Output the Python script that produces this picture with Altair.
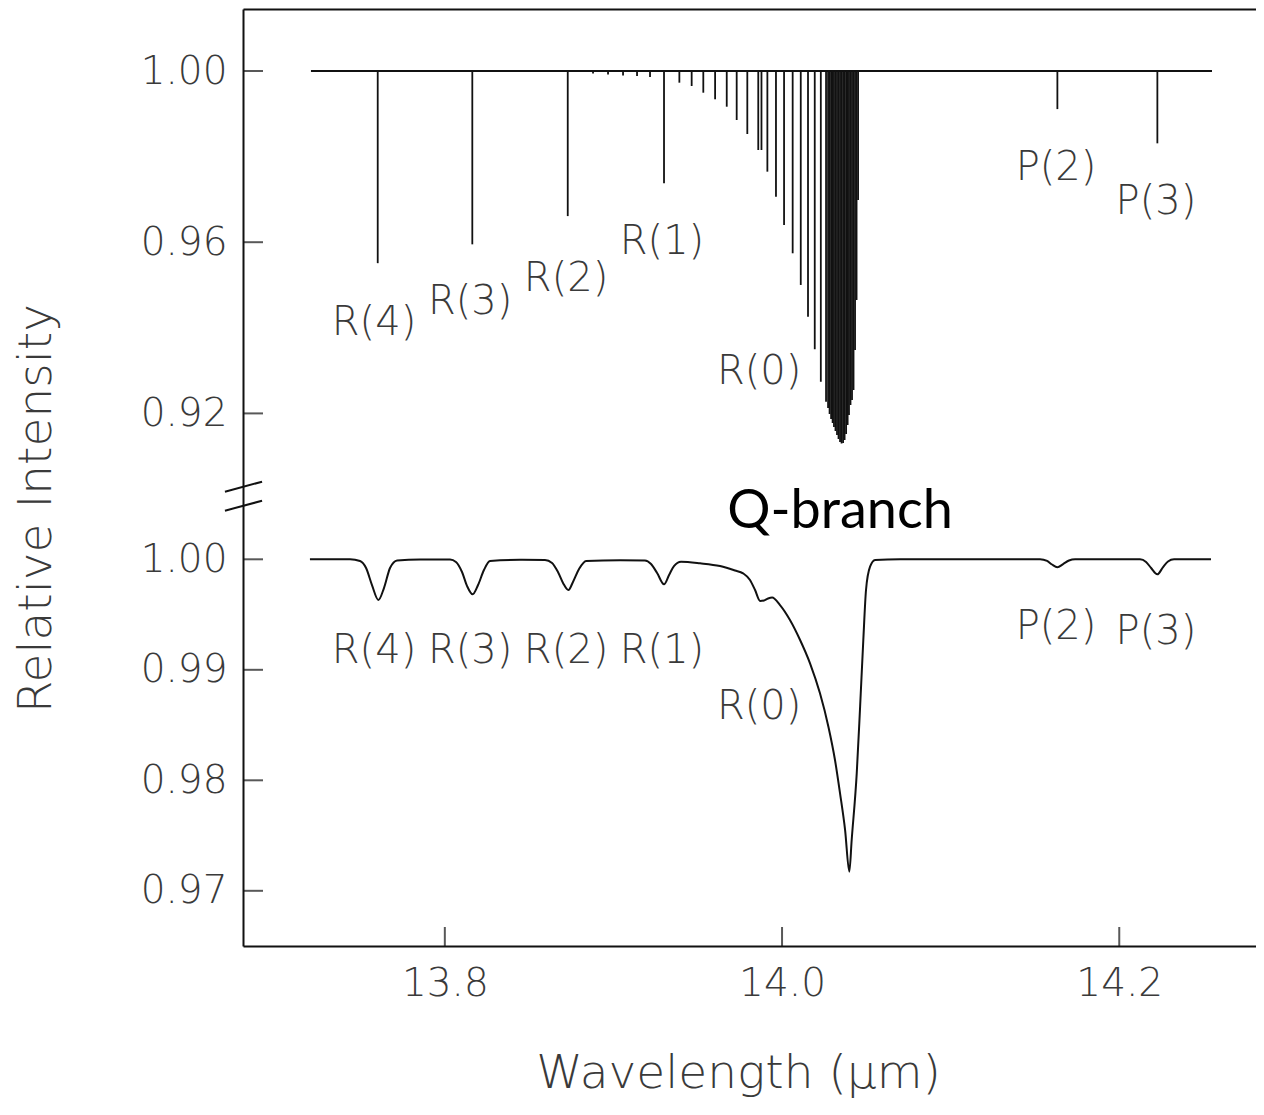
import altair as alt
import pandas as pd

# ---------------- data ----------------
# Top panel: high-resolution spectrum, absorption line centres and depths
line_wavelength = [13.7602, 13.8163, 13.8729, 13.8879, 13.8968, 13.9057, 13.9140, 13.9217,
                   13.9300, 13.9391, 13.9464, 13.9533, 13.9603, 13.9672, 13.9731, 13.9794,
                   13.9859, 13.9878, 13.9913, 13.9964, 14.0012, 14.0063, 14.0111, 14.0154,
                   14.0194, 14.0230, 14.0261, 14.0273, 14.0282, 14.0291, 14.0300, 14.0308,
                   14.0317, 14.0326, 14.0335, 14.0344, 14.0353, 14.0362, 14.0371, 14.0380,
                   14.0389, 14.0397, 14.0406, 14.0415, 14.0424, 14.0433, 14.0442, 14.0451,
                   14.1633, 14.2226]
line_intensity = [0.9551, 0.9595, 0.9661, 0.99942, 0.99918, 0.99895, 0.99883, 0.99860,
                  0.97377, 0.99727, 0.99650, 0.99493, 0.99339, 0.99166, 0.98855, 0.98528,
                  0.98154, 0.98154, 0.97648, 0.97064, 0.96403, 0.95741, 0.95001, 0.94260,
                  0.93499, 0.92742, 0.92275, 0.92128, 0.91988, 0.91871, 0.91778, 0.91684,
                  0.91590, 0.91497, 0.91404, 0.91333, 0.91298, 0.91310, 0.91380, 0.91520,
                  0.91730, 0.91964, 0.92198, 0.92315, 0.92548, 0.93483, 0.94650, 0.96987,
                  0.9911, 0.9831]
continuum_start = [13.7206]
continuum_end = [14.2550]
continuum_level = [1.00]

# Bottom panel: smoothed (convolved) spectrum
smooth_wavelength = [13.7200, 13.7438, 13.7497, 13.7533, 13.7568, 13.7606, 13.7639, 13.7675,
                     13.7717, 13.7853, 13.8031, 13.8066, 13.8102, 13.8132, 13.8165, 13.8197,
                     13.8232, 13.8268, 13.8446, 13.8594, 13.8636, 13.8671, 13.8701, 13.8733,
                     13.8760, 13.8796, 13.8838, 13.9039, 13.9187, 13.9223, 13.9259, 13.9300,
                     13.9330, 13.9359, 13.9401, 13.9514, 13.9632, 13.9721, 13.9769, 13.9810,
                     13.9840, 13.9870, 13.9893, 13.9917, 13.9941, 13.9988, 14.0047, 14.0107,
                     14.0166, 14.0225, 14.0275, 14.0314, 14.0344, 14.0374, 14.0399, 14.0413,
                     14.0443, 14.0463, 14.0482, 14.0498, 14.0522, 14.0552, 14.0700, 14.1530,
                     14.1572, 14.1601, 14.1633, 14.1667, 14.1702, 14.1738, 14.2123, 14.2159,
                     14.2189, 14.2226, 14.2260, 14.2289, 14.2325, 14.2544]
smooth_intensity = [1.00000, 1.00000, 0.99985, 0.99921, 0.99767, 0.99632, 0.99740, 0.99921,
                    0.99990, 0.99998, 0.99998, 0.99976, 0.99885, 0.99758, 0.99683, 0.99767,
                    0.99903, 0.99985, 0.99995, 0.99994, 0.99967, 0.99885, 0.99786, 0.99722,
                    0.99795, 0.99912, 0.99985, 0.99991, 0.99989, 0.99957, 0.99876, 0.99774,
                    0.99858, 0.99939, 0.99978, 0.99964, 0.99939, 0.99899, 0.99873, 0.99813,
                    0.99722, 0.99623, 0.99627, 0.99645, 0.99654, 0.99586, 0.99451, 0.99270,
                    0.99059, 0.98787, 0.98485, 0.98184, 0.97882, 0.97550, 0.97173, 0.97460,
                    0.98063, 0.98666, 0.99270, 0.99722, 0.99933, 0.99994, 1.00000, 1.00000,
                    0.99985, 0.99953, 0.99928, 0.99957, 0.99989, 1.00000, 1.00000, 0.99976,
                    0.99921, 0.99864, 0.99930, 0.99980, 1.00000, 1.00000]

# Annotations
top_label_text = ["R(4)", "R(3)", "R(2)", "R(1)", "R(0)", "P(2)", "P(3)"]
top_label_wavelength = [13.7580, 13.8150, 13.8719, 13.9288, 13.9864, 14.1625, 14.2218]
top_label_intensity = [0.94112, 0.94603, 0.95140, 0.96005, 0.92967, 0.97734, 0.96939]

bottom_label_text = ["R(4)", "R(3)", "R(2)", "R(1)", "R(0)", "P(2)", "P(3)"]
bottom_label_wavelength = [13.7580, 13.8150, 13.8719, 13.9288, 13.9864, 14.1625, 14.2218]
bottom_label_intensity = [0.99170, 0.99170, 0.99170, 0.99170, 0.98666, 0.99387, 0.99342]

branch_text = ["Q-branch"]
branch_wavelength = [14.0344]
branch_intensity = [1.00428]

# Axis ticks
x_tick_values = [13.8, 14.0, 14.2]
top_tick_values = [0.92, 0.96, 1.00]
bottom_tick_values = [0.97, 0.98, 0.99, 1.00]

# Axis-break marks ("//") in top-panel units
break_x = [13.6696, 13.6696]
break_x2 = [13.6916, 13.6916]
break_y = [0.90171, 0.89727]
break_y2 = [0.90404, 0.89960]

# ---------------- styling ----------------
INK = "#111111"
TXT = "#3a3a3a"
FONT = "DejaVu Sans"
LIGHT = 300
W, H = 1013, 937

x_scale = alt.Scale(domain=[13.6803, 14.2811], nice=False, zero=False)
y_top_scale = alt.Scale(domain=[0.795561, 1.014486], nice=False, zero=False)
y_bot_scale = alt.Scale(domain=[0.965005, 1.049801], nice=False, zero=False)

x_axis_top = alt.Axis(orient="top", labels=False, ticks=False, domain=True, grid=False,
                      title=None, domainColor=INK, domainWidth=2)
x_axis_bot = alt.Axis(orient="bottom", values=x_tick_values, format=".1f", ticks=False,
                      domain=True, grid=False, domainColor=INK, domainWidth=2,
                      labelFont=FONT, labelFontSize=39, labelFontWeight=LIGHT,
                      labelColor=TXT, labelPadding=18,
                      title="Wavelength (μm)", titleFont=FONT, titleFontSize=47,
                      titleFontWeight=LIGHT, titleColor=TXT, titleX=495, titleY=141,
                      titleBaseline="alphabetic", titleAlign="center", titleAngle=0)
y_axis_top = alt.Axis(orient="left", values=top_tick_values, format=".2f", ticks=False,
                      domain=True, grid=False, domainColor=INK, domainWidth=2,
                      labelFont=FONT, labelFontSize=39, labelFontWeight=LIGHT,
                      labelColor=TXT, labelPadding=16,
                      title="Relative Intensity", titleFont=FONT, titleFontSize=47,
                      titleFontWeight=LIGHT, titleColor=TXT, titleX=-193, titleY=499,
                      titleAngle=-90, titleBaseline="alphabetic", titleAlign="center")
y_axis_bot = alt.Axis(orient="left", values=bottom_tick_values, format=".2f", ticks=False,
                      domain=False, grid=False, labelFont=FONT, labelFontSize=39,
                      labelFontWeight=LIGHT, labelColor=TXT, labelPadding=16, title=None)

# ---------------- tables ----------------
lines_df = pd.DataFrame({"wl": line_wavelength, "val": line_intensity,
                         "cont": [continuum_level[0]] * len(line_wavelength)})
cont_df = pd.DataFrame({"wl": continuum_start, "wl2": continuum_end, "val": continuum_level})
smooth_df = pd.DataFrame({"wl": smooth_wavelength, "val": smooth_intensity})
top_lab_df = pd.DataFrame({"wl": top_label_wavelength, "val": top_label_intensity,
                           "txt": top_label_text})
bot_lab_df = pd.DataFrame({"wl": bottom_label_wavelength, "val": bottom_label_intensity,
                           "txt": bottom_label_text})
branch_df = pd.DataFrame({"wl": branch_wavelength, "val": branch_intensity, "txt": branch_text})
xt_df = pd.DataFrame({"wl": x_tick_values})
yt_top_df = pd.DataFrame({"val": top_tick_values})
yt_bot_df = pd.DataFrame({"val": bottom_tick_values})
brk_df = pd.DataFrame({"wl": break_x, "wl2": break_x2, "val": break_y, "val2": break_y2})


def XT(field="wl"):
    return alt.X(f"{field}:Q", scale=x_scale, axis=x_axis_top)


def XB(field="wl"):
    return alt.X(f"{field}:Q", scale=x_scale, axis=x_axis_bot)


def YT(field="val"):
    return alt.Y(f"{field}:Q", scale=y_top_scale, axis=y_axis_top)


def YB(field="val"):
    return alt.Y(f"{field}:Q", scale=y_bot_scale, axis=y_axis_bot)


# ---------------- top panel ----------------
cont = alt.Chart(cont_df).mark_rule(color=INK, strokeWidth=2).encode(
    x=XT(), x2="wl2:Q", y=YT())
spikes = alt.Chart(lines_df).mark_rule(color=INK, strokeWidth=1.8).encode(
    x=XT(), y=YT(), y2="cont:Q")
ytick_top = alt.Chart(yt_top_df).mark_tick(orient="horizontal", size=20, thickness=2,
                                           color=INK).encode(y=YT(), x=alt.value(10))
lab_top = alt.Chart(top_lab_df).mark_text(font=FONT, fontSize=40, fontWeight=LIGHT, color=TXT,
                                          align="center", baseline="middle").encode(
    x=XT(), y=YT(), text="txt:N")
breaks = alt.Chart(brk_df).mark_rule(color=INK, strokeWidth=2).encode(
    x=XT(), x2="wl2:Q", y=YT(), y2="val2:Q")

top = alt.layer(cont, spikes, ytick_top, lab_top, breaks)

# ---------------- bottom panel ----------------
curve = alt.Chart(smooth_df).mark_line(color=INK, strokeWidth=2, interpolate="monotone").encode(
    x=XB(), y=YB())
xtick = alt.Chart(xt_df).mark_tick(orient="vertical", size=19, thickness=2, color=INK).encode(
    x=XB(), y=alt.value(H - 9.5))
ytick_bot = alt.Chart(yt_bot_df).mark_tick(orient="horizontal", size=20, thickness=2,
                                           color=INK).encode(y=YB(), x=alt.value(10))
lab_bot = alt.Chart(bot_lab_df).mark_text(font=FONT, fontSize=40, fontWeight=LIGHT, color=TXT,
                                          align="center", baseline="middle").encode(
    x=XB(), y=YB(), text="txt:N")
branch = alt.Chart(branch_df).mark_text(font="Lato", fontSize=54, color="#000000",
                                        align="center", baseline="middle").encode(
    x=XB(), y=YB(), text="txt:N")

bottom = alt.layer(curve, xtick, ytick_bot, lab_bot, branch)

chart = alt.layer(top, bottom).resolve_scale(
    x="independent", y="independent"
).resolve_axis(
    x="independent", y="independent"
).properties(
    width=W, height=H,
    padding={"left": 235, "top": 1, "right": 0, "bottom": 155},
    autosize=alt.AutoSizeParams(type="none"),
    background="white",
).configure_view(stroke=None)

chart.save("out.html", embed_options={"renderer": "svg", "actions": False})
